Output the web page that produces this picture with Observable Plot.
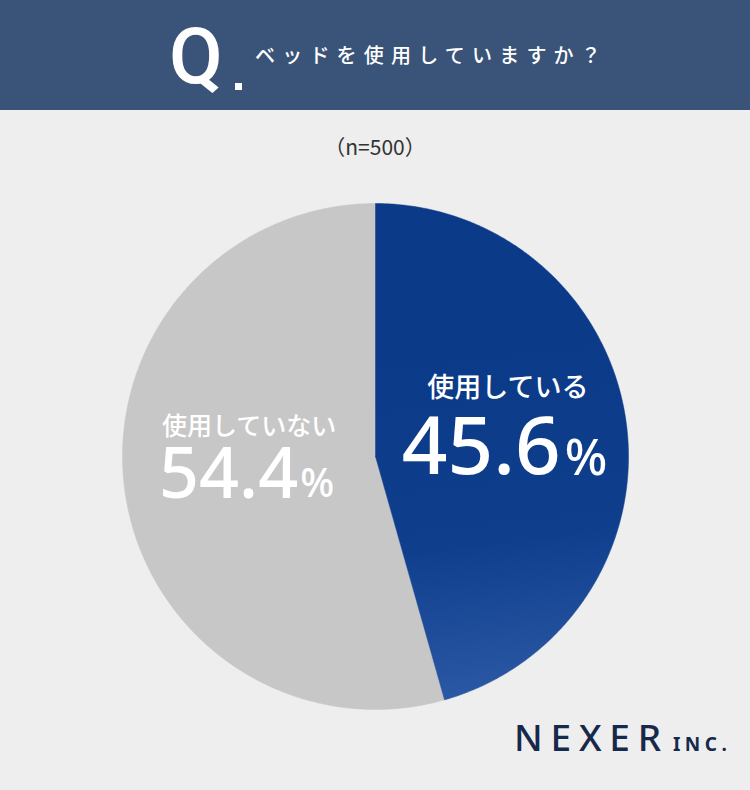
<!DOCTYPE html>
<html><head><meta charset="utf-8">
<script src="https://cdn.jsdelivr.net/npm/d3@7"></script>
<script src="https://cdn.jsdelivr.net/npm/@observablehq/plot@0.6"></script>
<style>
html,body{margin:0;padding:0;background:#eeeeee;width:750px;height:790px;overflow:hidden;font-family:"Noto Sans CJK JP","Noto Sans",sans-serif;}
#wrap{position:relative;width:750px;height:790px;}
#header{position:absolute;left:0;top:0;width:750px;height:110px;background:#3a5379;}
#q{position:absolute;left:169px;top:18px;font-family:"Roboto",sans-serif;font-size:78px;font-weight:500;color:#fff;line-height:1;}
#dot{position:absolute;left:235px;top:83px;width:7px;height:7px;background:#fff;}
#qt{position:absolute;left:255px;top:42px;font-size:20px;font-weight:500;color:#fff;letter-spacing:7.2px;line-height:1.3;white-space:nowrap;}
#n{position:absolute;left:0;width:750px;top:131px;text-align:center;font-size:21px;color:#333;}
#chart{position:absolute;left:0;top:110px;}
#logo{position:absolute;left:514px;top:711px;color:#17294a;white-space:nowrap;font-family:"Noto Sans",sans-serif;}
#logo .big{font-size:37px;letter-spacing:7.8px;font-weight:500;}
#logo .sm{font-size:19px;font-weight:700;letter-spacing:4.5px;margin-left:4px;}
</style></head>
<body><div id="wrap">
<div id="header"><div id="q">Q</div><div id="dot"></div><div id="qt">ベッドを使用していますか？</div></div>
<div id="n">（n=500）</div>
<div id="chart"></div>
<div id="logo"><span class="big">NEXER</span><span class="sm">INC.</span></div>
</div>
<script>
const categories = ["使用している", "使用していない"];
const values = [45.6, 54.4];
const sampleSize = 500;

const pie = d3.pie().sort(null).value(d => d)(values);
// slice outlines built from the data angles (clockwise from top)
function slicePoints(p, i) {
  const pts = [{x: 0, y: 0, i}];
  const n = Math.max(2, Math.ceil((p.endAngle - p.startAngle) / (Math.PI / 360)));
  for (let k = 0; k <= n; k++) {
    const a = p.startAngle + (p.endAngle - p.startAngle) * k / n;
    pts.push({x: Math.sin(a), y: Math.cos(a), i});
  }
  pts.push({x: 0, y: 0, i});
  return pts;
}
const s0 = slicePoints(pie[0], 0);
const s1 = slicePoints(pie[1], 1);

const W = 750, H = 680, mL = 122, mR = 122, mT = 93, mB = 81;
const R = (W - mL - mR) / 2; // px per data unit
const labels = pie.map((p, i) => {
  const mid = (p.startAngle + p.endAngle) / 2;
  return {x: 0.52 * Math.sin(mid), y: 0.52 * Math.cos(mid), cat: categories[i], num: values[i].toFixed(1), i};
});
const px = v => v / R;

const plot = Plot.plot({
  width: W, height: H,
  marginLeft: mL, marginRight: mR, marginTop: mT, marginBottom: mB,
  x: {domain: [-1, 1], axis: null},
  y: {domain: [-1, 1], axis: null},
  style: {background: "transparent", overflow: "visible"},
  marks: [
    Plot.line(s1, {x: "x", y: "y", fill: "#c7c7c7", stroke: "#c7c7c7", strokeWidth: 0.5, curve: "linear"}),
    Plot.line(s0, {x: "x", y: "y", fill: "url(#blueGrad)", stroke: "url(#blueGrad)", strokeWidth: 0.5, curve: "linear"}),
    // category labels
    Plot.text([labels[0]], {x: d => d.x + px(2), y: d => d.y + px(50), text: "cat", fill: "white", fontSize: 27, fontWeight: 500, fontFamily: "Noto Sans CJK JP", letterSpacing: 2, textAnchor: "middle"}),
    Plot.text([labels[1]], {x: d => d.x + px(4), y: d => d.y + px(48), text: "cat", fill: "white", fontSize: 25, fontWeight: 500, fontFamily: "Noto Sans CJK JP", letterSpacing: 1.5, textAnchor: "middle"}),
    // numbers
    Plot.text([labels[0]], {x: d => d.x + px(55), y: d => d.y - px(10), text: "num", fill: "white", fontSize: 80, fontWeight: 500, fontFamily: "Noto Sans", textAnchor: "end"}),
    Plot.text([labels[0]], {x: d => d.x + px(59), y: d => d.y - px(21), text: () => "%", fill: "white", fontSize: 50, fontWeight: 500, fontFamily: "Noto Sans", textAnchor: "start"}),
    Plot.text([labels[1]], {x: d => d.x + px(53), y: d => d.y - px(1), text: "num", fill: "white", fontSize: 70, fontWeight: 500, fontFamily: "Noto Sans", textAnchor: "end"}),
    Plot.text([labels[1]], {x: d => d.x + px(55), y: d => d.y - px(10), text: () => "%", fill: "white", fontSize: 40, fontWeight: 500, fontFamily: "Noto Sans", textAnchor: "start"})
  ]
});
const defs = d3.select(plot).insert("defs", ":first-child");
const g = defs.append("linearGradient").attr("id", "blueGrad")
  .attr("gradientUnits", "userSpaceOnUse")
  .attr("x1", 400).attr("y1", 250).attr("x2", 440).attr("y2", 590);
g.append("stop").attr("offset", 0).attr("stop-color", "#0b3a88");
g.append("stop").attr("offset", 0.55).attr("stop-color", "#0f3e8c");
g.append("stop").attr("offset", 1).attr("stop-color", "#2a58a5");
document.getElementById("chart").appendChild(plot);
</script>
</body></html>
